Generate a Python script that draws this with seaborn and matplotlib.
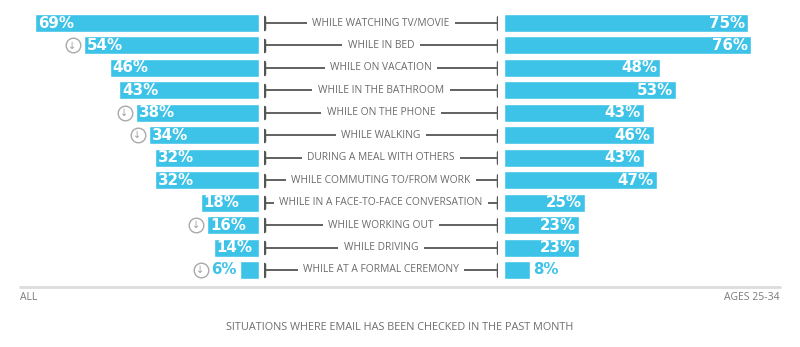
import matplotlib
matplotlib.use("Agg")
import matplotlib.pyplot as plt
import matplotlib.transforms as mtransforms
import seaborn as sns
import pandas as pd

situations = ["WHILE WATCHING TV/MOVIE", "WHILE IN BED", "WHILE ON VACATION",
              "WHILE IN THE BATHROOM", "WHILE ON THE PHONE", "WHILE WALKING",
              "DURING A MEAL WITH OTHERS", "WHILE COMMUTING TO/FROM WORK",
              "WHILE IN A FACE-TO-FACE CONVERSATION", "WHILE WORKING OUT",
              "WHILE DRIVING", "WHILE AT A FORMAL CEREMONY"]
all_pct = [69, 54, 46, 43, 38, 34, 32, 32, 18, 16, 14, 6]
ages_pct = [75, 76, 48, 53, 43, 46, 43, 47, 25, 23, 23, 8]
down_flag = [False, True, False, False, True, True, False, False, False, True, False, True]
left_title = "ALL"
right_title = "AGES 25-34"
chart_title = "SITUATIONS WHERE EMAIL HAS BEEN CHECKED IN THE PAST MONTH"

df = pd.DataFrame({"situation": situations, "all": all_pct, "ages": ages_pct})

sns.set_theme(style="white")
plt.rcParams["font.family"] = ["Open Sans", "DejaVu Sans"]

BLUE = "#3ec3e8"
W, H = 800, 347
fig = plt.figure(figsize=(8, 3.47), dpi=100)

scale = 3.25  # px per percent
top_px, bot_px = 11.8, 281.2
ax_b = (H - bot_px) / H
ax_h = (bot_px - top_px) / H

left_end, right_start = 259, 504
lx0 = 20
axL = fig.add_axes([lx0 / W, ax_b, (left_end - lx0) / W, ax_h])
axR_w = 273
axR = fig.add_axes([right_start / W, ax_b, axR_w / W, ax_h])

sns.barplot(data=df, x="all", y="situation", ax=axL, color=BLUE, width=0.8,
            saturation=1, orient="h")
sns.barplot(data=df, x="ages", y="situation", ax=axR, color=BLUE, width=0.8,
            saturation=1, orient="h")
axL.set_xlim((left_end - lx0) / scale, 0)
axR.set_xlim(0, axR_w / scale)
for ax in (axL, axR):
    ax.set_ylim(len(situations) - 0.5, -0.5)
    ax.axis("off")

PFS = 10.8
PF = dict(fontsize=PFS, fontweight="bold", family="DejaVu Sans", va="center")
# value labels
for i, (a, b) in enumerate(zip(all_pct, ages_pct)):
    if a >= 10:
        off = mtransforms.offset_copy(axL.transData, fig=fig, x=3, y=0, units="dots")
        axL.text(a, i, f"{a}%", transform=off, ha="left", color="white", **PF)
        icon_x = -11
    else:
        off = mtransforms.offset_copy(axL.transData, fig=fig, x=-3, y=0, units="dots")
        axL.text(a, i, f"{a}%", transform=off, ha="right", color=BLUE, **PF)
        icon_x = -39
    if down_flag[i]:
        offi = mtransforms.offset_copy(axL.transData, fig=fig, x=icon_x, y=0, units="dots")
        axL.plot([a], [i], marker="o", markersize=10.5, markerfacecolor="white",
                 markeredgecolor="#a9a9a9", markeredgewidth=1.0, transform=offi,
                 clip_on=False)
        axL.text(a, i, "↓", transform=offi, ha="center", va="center",
                 color="#a0a0a0", fontsize=7, family="DejaVu Sans", clip_on=False)
    if b >= 10:
        off = mtransforms.offset_copy(axR.transData, fig=fig, x=-3, y=0, units="dots")
        axR.text(b, i, f"{b}%", transform=off, ha="right", color="white", **PF)
    else:
        off = mtransforms.offset_copy(axR.transData, fig=fig, x=3, y=0, units="dots")
        axR.text(b, i, f"{b}%", transform=off, ha="left", color=BLUE, **PF)

# middle bracket labels
axM = fig.add_axes([264 / W, ax_b, (498 - 264) / W, ax_h])
axM.set_xlim(0, 1)
axM.set_ylim(len(situations) - 0.5, -0.5)
axM.axis("off")
LINE = "#555555"
for i, s in enumerate(situations):
    axM.plot([0, 1], [i, i], color=LINE, lw=1.3, solid_capstyle="butt")
    axM.plot([0, 0], [i - 0.25, i + 0.25], color=LINE, lw=2.5)
    axM.plot([1, 1], [i - 0.25, i + 0.25], color=LINE, lw=2.5)
    axM.text(0.5, i, s, ha="center", va="center", color="#6b6b6b", fontsize=7.4,
             bbox=dict(facecolor="white", edgecolor="none", pad=4))

# bottom baseline and texts
fig.add_artist(plt.Line2D([20 / W, 780 / W], [(H - 287) / H] * 2,
                          color="#dcdcdc", lw=2))
fig.text(20 / W, (H - 298) / H, left_title, ha="left", va="center",
         color="#7a7a7a", fontsize=7.5)
fig.text(780 / W, (H - 298) / H, right_title, ha="right", va="center",
         color="#7a7a7a", fontsize=7.5)
fig.text(400 / W, (H - 327) / H, chart_title, ha="center", va="center",
         color="#6e6e6e", fontsize=7.8)

fig.savefig("out.png", dpi=100, facecolor="white")
